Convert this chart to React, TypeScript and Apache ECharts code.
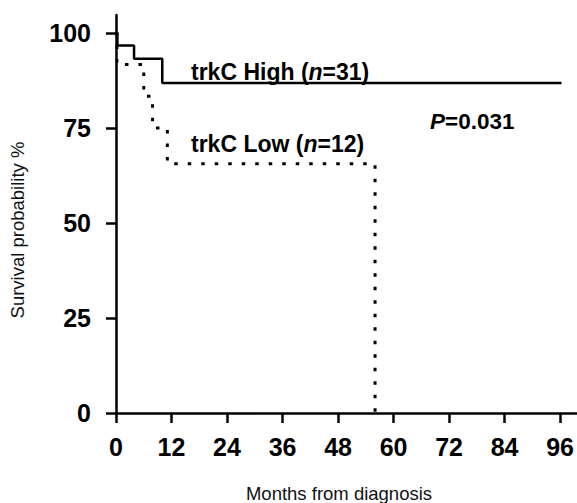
import React, { useEffect, useRef } from "react";
import * as echarts from "echarts";

const xTicks = [0, 12, 24, 36, 48, 60, 72, 84, 96];
const yTicks = [0, 25, 50, 75, 100];

const highTimes = [0, 0.3, 3.9, 10.0, 96.3];
const highSurvival = [100, 96.7, 93.2, 86.8, 86.8];

const lowTimes = [0, 0.2, 6.0, 7.9, 11.1, 56.0];
const lowSurvival = [100, 91.7, 83.3, 75, 65.6, 0];

const highLabel = ["trkC High (", "n", "=31)"];
const lowLabel = ["trkC Low (", "n", "=12)"];
const pLabel = ["P", "=0.031"];
const xTitle = "Months from diagnosis";
const yTitle = "Survival probability %";

const FONT = "'Liberation Sans', Arial, Helvetica, sans-serif";

export default function App() {
  const ref = useRef<HTMLDivElement>(null);
  useEffect(() => {
    if (!ref.current) return;
    const chart = echarts.init(ref.current, null, { renderer: "svg" });
    const toPairs = (t: number[], v: number[]) => t.map((x, i) => [x, v[i]]);
    const mkRich = (size: number) => ({
      b: { fontFamily: FONT, fontSize: size, fontWeight: "bold", fill: "#000" },
      i: { fontFamily: FONT, fontSize: size, fontWeight: "bold", fontStyle: "italic", fill: "#000" },
    });
    chart.setOption({
      animation: false,
      backgroundColor: "#fff",
      grid: { left: 116, right: 0, top: 15, bottom: 90, containLabel: false },
      xAxis: {
        type: "value",
        min: 0,
        max: 99.6,
        interval: 12,
        axisLine: { show: true, lineStyle: { color: "#000", width: 2.5 } },
        axisTick: { show: true, length: 10, lineStyle: { color: "#000", width: 2.5 } },
        splitLine: { show: false },
        axisLabel: {
          margin: 21,
          color: "#000",
          fontFamily: FONT,
          fontSize: 25,
          fontWeight: "bold",
          showMaxLabel: false,
          formatter: (v: number) => (xTicks.includes(v) ? String(v) : ""),
        },
      },
      yAxis: {
        type: "value",
        min: 0,
        max: 104.7,
        interval: 25,
        axisLine: { show: true, lineStyle: { color: "#000", width: 2.5 } },
        axisTick: { show: true, length: 10, lineStyle: { color: "#000", width: 2.5 } },
        splitLine: { show: false },
        axisLabel: {
          margin: 25,
          color: "#000",
          fontFamily: FONT,
          fontSize: 25,
          fontWeight: "bold",
          showMaxLabel: false,
          formatter: (v: number) => (yTicks.includes(v) ? String(v) : ""),
        },
      },
      series: [
        {
          type: "line",
          step: "end",
          data: toPairs(highTimes, highSurvival),
          symbol: "none",
          lineStyle: { color: "#000", width: 2.5 },
        },
        {
          type: "line",
          step: "end",
          data: toPairs(lowTimes, lowSurvival),
          symbol: "none",
          lineStyle: { color: "#000", width: 3, type: [3.5, 10] },
        },
      ],
      graphic: [
        {
          type: "text",
          x: 191,
          y: 72,
          style: {
            text: `{b|${highLabel[0]}}{i|${highLabel[1]}}{b|${highLabel[2]}}`,
            rich: mkRich(23),
            verticalAlign: "middle",
            align: "left",
          },
        },
        {
          type: "text",
          x: 191,
          y: 144,
          style: {
            text: `{b|${lowLabel[0]}}{i|${lowLabel[1]}}{b|${lowLabel[2]}}`,
            rich: mkRich(23),
            verticalAlign: "middle",
            align: "left",
          },
        },
        {
          type: "text",
          x: 430,
          y: 121,
          style: {
            text: `{i|${pLabel[0]}}{b|${pLabel[1]}}`,
            rich: mkRich(22.5),
            verticalAlign: "middle",
            align: "left",
          },
        },
        {
          type: "text",
          x: 339,
          y: 493,
          style: {
            text: xTitle,
            fontFamily: FONT,
            fontSize: 18.5,
            fill: "#111",
            align: "center",
            verticalAlign: "middle",
          },
        },
        {
          type: "text",
          x: 17,
          y: 230,
          rotation: Math.PI / 2,
          style: {
            text: yTitle,
            fontFamily: FONT,
            fontSize: 18.5,
            fill: "#111",
            align: "center",
            verticalAlign: "middle",
          },
        },
      ],
    });
    return () => chart.dispose();
  }, []);
  return (
    <div
      ref={ref}
      style={{ position: "fixed", left: 0, top: 0, width: 577, height: 503, background: "#fff" }}
    />
  );
}
